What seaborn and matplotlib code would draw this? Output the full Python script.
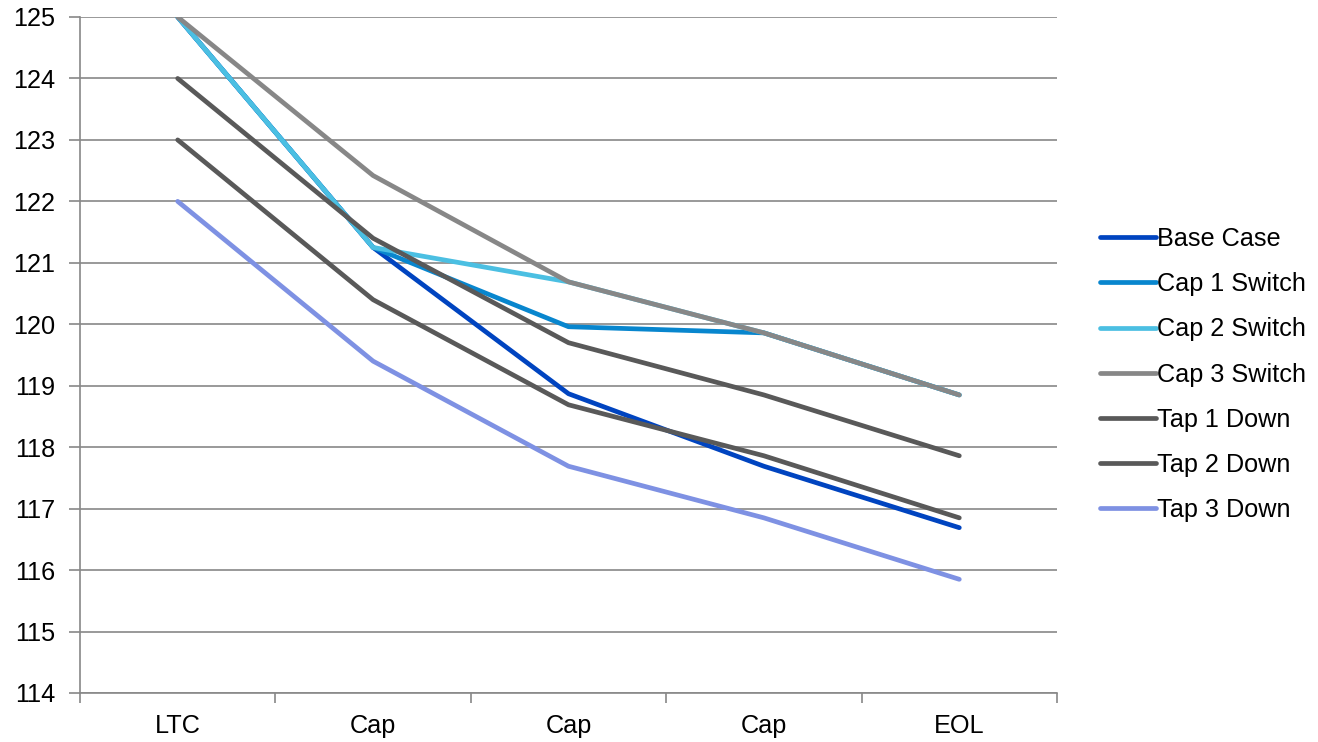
import numpy as np
import pandas as pd
import matplotlib
matplotlib.use("Agg")
import matplotlib.pyplot as plt
import seaborn as sns

points = ["LTC", "Cap", "Cap", "Cap", "EOL"]
base_case = [125.0, 121.25, 118.87, 117.69, 116.69]
cap1_switch = [125.0, 121.25, 119.96, 119.86, 118.85]
cap2_switch = [125.0, 121.25, 120.69, 119.86, 118.85]
cap3_switch = [125.0, 122.42, 120.69, 119.86, 118.85]
tap1_down = [124.0, 121.40, 119.70, 118.85, 117.86]
tap2_down = [123.0, 120.40, 118.69, 117.86, 116.85]
tap3_down = [122.0, 119.40, 117.69, 116.85, 115.85]

series = {
    "Base Case": base_case,
    "Cap 1 Switch": cap1_switch,
    "Cap 2 Switch": cap2_switch,
    "Cap 3 Switch": cap3_switch,
    "Tap 1 Down": tap1_down,
    "Tap 2 Down": tap2_down,
    "Tap 3 Down": tap3_down,
}
colors = ["#0044C0", "#0886CE", "#4BBFE2", "#878787", "#595959", "#595959", "#7E91E3"]

rows = []
for name, vals in series.items():
    for i, v in enumerate(vals):
        rows.append({"pos": i, "value": v, "series": name})
df = pd.DataFrame(rows)

sns.set_style("white")
plt.rcParams["font.family"] = ["Liberation Sans", "DejaVu Sans"]
plt.rcParams["text.color"] = "black"
plt.rcParams["xtick.color"] = "#888888"
plt.rcParams["ytick.color"] = "#888888"
plt.rcParams["xtick.labelcolor"] = "black"
plt.rcParams["ytick.labelcolor"] = "black"

fs = 18.2
fig = plt.figure(figsize=(13.18, 7.42), dpi=100)
ax = fig.add_axes([80 / 1318, 1 - 693 / 742, (1057 - 80) / 1318, (693 - 17) / 742])

sns.lineplot(data=df, x="pos", y="value", hue="series", palette=colors,
             linewidth=3.4, ax=ax, legend=True)
for ln in ax.lines:
    ln.set_solid_capstyle("round")
    ln.set_solid_joinstyle("round")

ax.set_xlim(-0.5, 4.5)
ax.set_ylim(114, 125)
ax.set_yticks(np.arange(114, 126, 1))
ax.set_xticks(range(5))
ax.set_xticklabels(points)
ax.set_xticks(np.arange(-0.5, 5, 1), minor=True)
ax.tick_params(axis="x", which="major", bottom=True, length=0, labelsize=fs, pad=15)
ax.tick_params(axis="x", which="minor", bottom=True, length=7, width=1.2, direction="out")
ax.tick_params(axis="y", left=True, length=8, width=1.2, labelsize=fs, pad=10)
ax.grid(axis="y", color="#888888", linewidth=1.2)
ax.set_axisbelow(True)
ax.set_xlabel("")
ax.set_ylabel("")
for side in ["top", "right"]:
    ax.spines[side].set_visible(False)
for side in ["left", "bottom"]:
    ax.spines[side].set_color("#888888")
    ax.spines[side].set_linewidth(1.2)

leg = ax.legend(loc="center left", bbox_to_anchor=(1.021, 0.471), frameon=False,
                fontsize=fs, handlelength=2.2, handletextpad=0.05, labelspacing=0.84)
for h in leg.get_lines():
    h.set_linewidth(3.4)
    h.set_solid_capstyle("round")

fig.savefig("out.png", dpi=100)
